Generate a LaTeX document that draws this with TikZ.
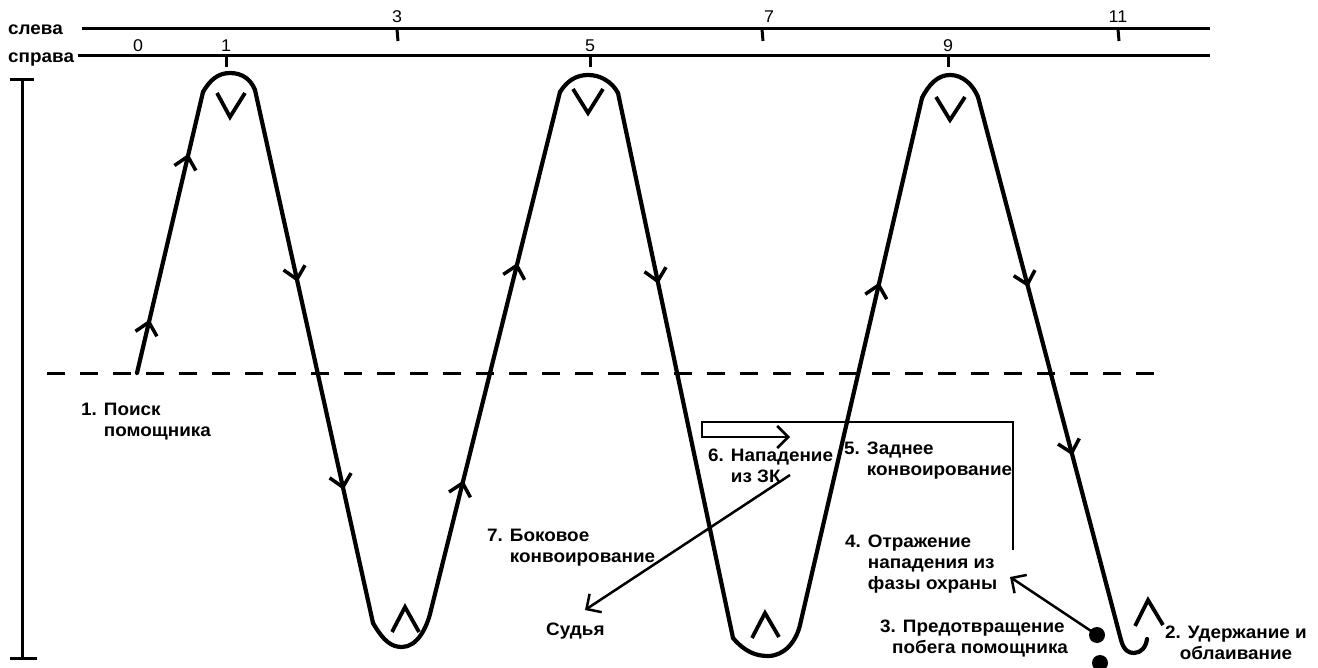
\documentclass[tikz,border=0pt]{standalone}
\usepackage{fontspec}
\setmainfont{Liberation Sans}[FakeStretch=1.05]
\usetikzlibrary{arrows.meta,decorations.markings}
\begin{document}
\begin{tikzpicture}[x=1pt,y=-1pt,
  chev/.tip={Straight Barb[length=12pt,width=22pt,line width=3.5pt]},
  tipc/.tip={Straight Barb[length=11pt,width=22pt,line width=2.5pt]},
  curve/.style={line width=4.2pt,line cap=round,line join=round},
  mk/.style={line width=3.8pt,line join=miter},
  rule/.style={line width=3pt},
  conn/.style={line width=2.5pt},
  lbl/.style={font=\fontsize{18}{21}\selectfont\bfseries,inner sep=0pt,align=left,anchor=west},
  num/.style={font=\fontsize{17}{20}\selectfont,inner sep=0pt},
  dot/.style={circle,fill=black,inner sep=0pt,minimum size=16pt}]
\useasboundingbox (0,0) rectangle (1318,668);
% time lines
\node[lbl,anchor=base west] (sl) at (8,35) {слева};
\node[lbl,anchor=base west] (sp) at (8,63) {справа};
\coordinate (L1s) at (82,29); \coordinate (L1e) at (1210,29);
\coordinate (L2s) at (78,56); \coordinate (L2e) at (1210,56);
\draw[rule] (L1s) -- (L1e);
\draw[rule] (L2s) -- (L2e);
\foreach \x in {397,762,1118}{
  \draw[rule] (\x,29) -- (\x+1,41);
}
\foreach \x in {226,590,948}{
  \draw[rule] (\x,56) -- (\x,67);
}
\node[num] (n3) at (397,17) {3};
\node[num] (n7) at (769,17) {7};
\node[num] (n11) at (1118,17) {11};
\node[num] (n0) at (138,46) {0};
\node[num] (n1) at (226,46) {1};
\node[num] (n5) at (590,46) {5};
\node[num] (n9) at (948,46) {9};
% vertical bar
\draw[rule] (22,80) -- (22,658);
\draw[rule] (10,80) -- (34,80);
\draw[rule] (10,658) -- (37,658);
% dashed line
\draw[line width=3pt,dash pattern=on 18pt off 15pt] (47,374) -- (1158,374);
% main curve points
\coordinate (s0) at (137,373);
\coordinate (p1L) at (203,92); \coordinate (p1T) at (230,73); \coordinate (p1R) at (255,90);
\coordinate (t1L) at (373,623); \coordinate (t1B) at (402,647); \coordinate (t1R) at (431,610);
\coordinate (p2L) at (560,92); \coordinate (p2T) at (588,75); \coordinate (p2R) at (618,93);
\coordinate (t2L) at (733,638); \coordinate (t2B) at (768,656); \coordinate (t2R) at (800,625);
\coordinate (p3L) at (922,98); \coordinate (p3T) at (950,75); \coordinate (p3R) at (978,97);
\coordinate (hL) at (1121,640); \coordinate (hB) at (1134,653); \coordinate (hE) at (1147,639);
% straight runs with direction marks
\draw[curve,postaction={decorate},decoration={markings,
  mark=at position 0.19 with {\arrow{chev}},mark=at position 0.78 with {\arrow{chev}}}] (s0) -- (p1L);
\draw[curve,postaction={decorate},decoration={markings,
  mark=at position 0.36 with {\arrow{chev}},mark=at position 0.75 with {\arrow{chev}}}] (p1R) -- (t1L);
\draw[curve,postaction={decorate},decoration={markings,
  mark=at position 0.25 with {\arrow{chev}},mark=at position 0.67 with {\arrow{chev}}}] (t1R) -- (p2L);
\draw[curve,postaction={decorate},decoration={markings,
  mark=at position 0.35 with {\arrow{chev}}}] (p2R) -- (t2L);
\draw[curve,postaction={decorate},decoration={markings,
  mark=at position 0.65 with {\arrow{chev}}}] (t2R) -- (p3L);
\draw[curve,postaction={decorate},decoration={markings,
  mark=at position 0.35 with {\arrow{chev}},mark=at position 0.66 with {\arrow{chev}}}] (p3R) -- (hL);
% turns
\draw[curve] (p1L) .. controls (210,80) and (218,73) .. (p1T) .. controls (243,73) and (251,80) .. (p1R);
\draw[curve] (p2L) .. controls (567,81) and (576,75) .. (p2T) .. controls (601,75) and (612,82) .. (p2R);
\draw[curve] (p3L) .. controls (929,84) and (938,75) .. (p3T) .. controls (963,75) and (973,85) .. (p3R);
\draw[curve] (t1L) .. controls (384,642) and (392,647) .. (t1B) .. controls (417,647) and (427,628) .. (t1R);
\draw[curve] (t2L) .. controls (745,652) and (756,656) .. (t2B) .. controls (784,656) and (796,642) .. (t2R);
\draw[curve] (hL) .. controls (1124,651) and (1129,653) .. (hB) .. controls (1141,653) and (1146,647) .. (hE);
% V / Lambda marks
\draw[mk] (217,93) -- (230,117) -- (245,93);
\draw[mk] (573,89) -- (588,113) -- (603,89);
\draw[mk] (936,97) -- (950,120) -- (965,97);
\draw[mk] (392,632) -- (405,607) -- (419,632);
\draw[mk] (752,638) -- (765,613) -- (779,637);
\draw[mk] (1135,626) -- (1148,600) -- (1163,625);
% labels
\node[lbl] (t1) at (81,422) {1. Поиск\\\hphantom{1. }помощника};
\node[lbl] (t6) at (708,466) {6. Нападение\\\hphantom{6. }из ЗК};
\node[lbl] (t5) at (844,461) {5. Заднее\\\hphantom{5. }конвоирование};
\node[lbl] (t7) at (487,548) {7. Боковое\\\hphantom{7. }конвоирование};
\node[lbl] (tS) at (546,631) {Судья};
\node[lbl] (t4) at (845,564) {4. Отражение\\\hphantom{4. }нападения из\\\hphantom{4. }фазы охраны};
\node[lbl] (t3) at (880,639) {3. Предотвращение\\\hspace*{12pt}побега помощника};
\node[lbl,align=center,anchor=center] (t2) at (1236,643) {2. Удержание и\\облаивание};
% connectors
\coordinate (c5a) at (1013,550); \coordinate (c5b) at (1013,422);
\coordinate (c5c) at (702,422); \coordinate (c5d) at (702,437);
\coordinate (c6) at (790,437);
\draw[conn,-tipc] (c5a) -- (c5b) -- (c5c) -- (c5d) -- (c6);
\coordinate (c7a) at (790,475); \coordinate (c7b) at (585,610);
\draw[conn,-tipc] (c7a) -- (c7b);
\node[dot] (d1) at (1097,635) {};
\node[dot] (d2) at (1100,663) {};
\coordinate (c4) at (1010,577);
\draw[conn,-tipc] (d1.center) -- (c4);
\end{tikzpicture}
\end{document}
